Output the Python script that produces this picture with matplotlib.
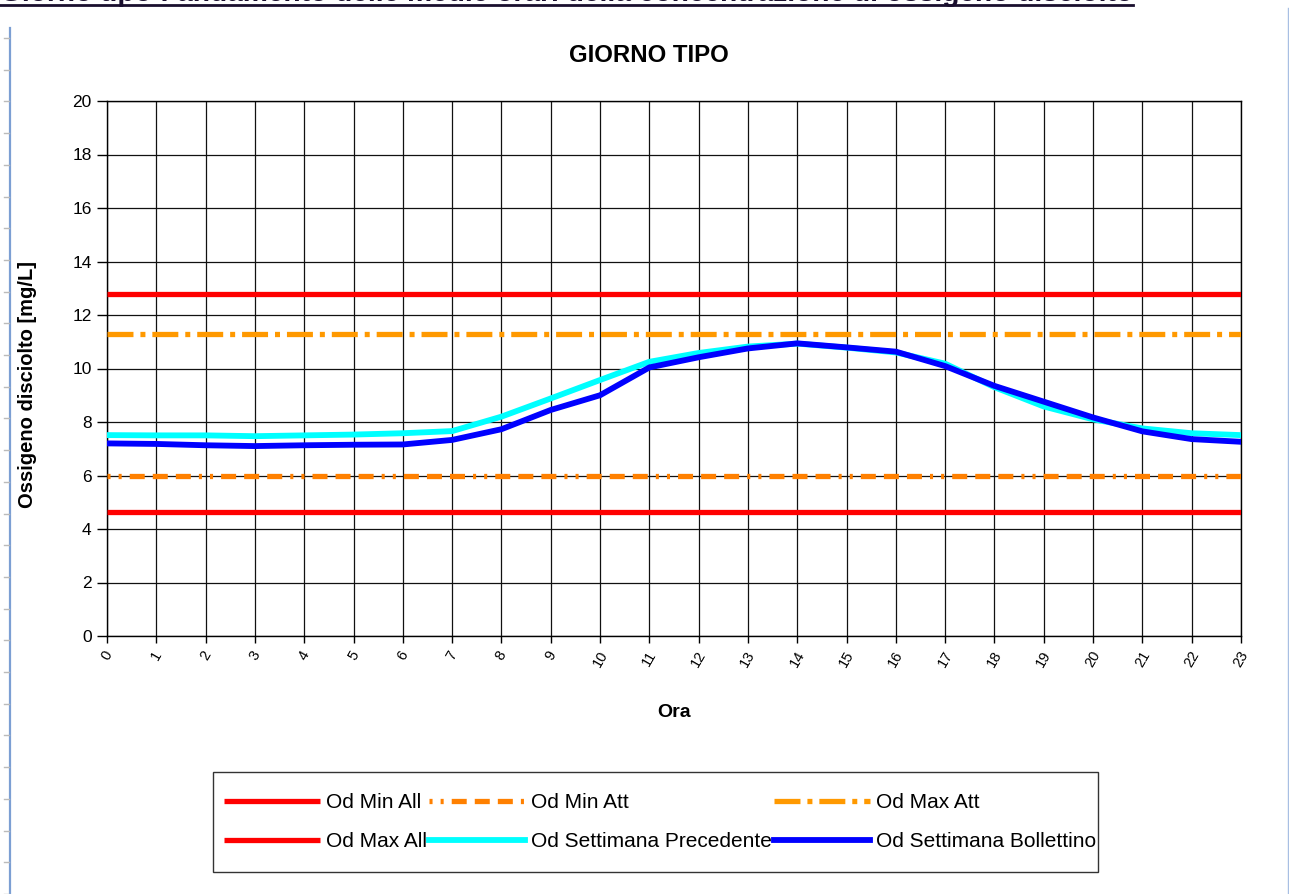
import matplotlib
matplotlib.use('Agg')
import matplotlib.pyplot as plt
import numpy as np
from matplotlib.lines import Line2D
from matplotlib.patches import Rectangle

plt.rcParams['font.family'] = ['Liberation Sans', 'DejaVu Sans']
plt.rcParams['lines.scale_dashes'] = False

# ---------------- data ----------------
hours = list(range(24))
hour_labels = [str(h) for h in hours]
od_min_all = 4.65
od_min_att = 6.0
od_max_att = 11.3
od_max_all = 12.8
od_settimana_precedente = [7.51, 7.50, 7.50, 7.47, 7.50, 7.53, 7.58, 7.66, 8.20, 8.88, 9.57, 10.25,
                           10.58, 10.82, 10.93, 10.78, 10.60, 10.18, 9.30, 8.58, 8.10, 7.76, 7.58, 7.51]
od_settimana_bollettino = [7.20, 7.18, 7.13, 7.10, 7.13, 7.15, 7.16, 7.33, 7.73, 8.45, 9.00, 10.04,
                           10.42, 10.75, 10.94, 10.79, 10.63, 10.09, 9.35, 8.76, 8.17, 7.65, 7.36, 7.26]
y_ticks = list(range(0, 21, 2))

W, H = 1289, 894
fig = plt.figure(figsize=(W / 100, H / 100), dpi=100)
fig.patch.set_facecolor('white')

def fx(px):
    return px / W

def fy(py):
    return 1 - py / H

ax = fig.add_axes([fx(107), fy(636), fx(1241) - fx(107), fy(101) - fy(636)])

lw = 3.8
red = '#FF0000'
org_min = '#FF8000'
org_max = '#FF9900'

l_min_all, = ax.plot(hours, [od_min_all] * len(hours), color=red, lw=lw, solid_capstyle='butt', zorder=3)
l_max_all, = ax.plot(hours, [od_max_all] * len(hours), color=red, lw=lw, solid_capstyle='butt', zorder=3)
l_min_att, = ax.plot(hours, [od_min_att] * len(hours), color=org_min, lw=lw,
                     dashes=(2.2, 5.8, 2.2, 5.8, 10.8, 5.8, 10.8, 5.8, 10.8, 5.8), dash_capstyle='butt', zorder=3)
l_max_att, = ax.plot(hours, [od_max_att] * len(hours), color=org_max, lw=lw,
                     dashes=(18.7, 5.0, 3.6, 5.0), dash_capstyle='butt', zorder=3)
l_prec, = ax.plot(hours, od_settimana_precedente, color='#00FFFF', lw=4.2, zorder=4)
l_boll, = ax.plot(hours, od_settimana_bollettino, color='#0000FF', lw=4.2, zorder=5)

ax.set_xlim(0, 23)
ax.set_ylim(0, 20)
ax.set_xticks(hours)
ax.set_xticklabels(hour_labels, rotation=60, fontsize=10.5)
ax.set_yticks(y_ticks)
ax.set_yticklabels([str(v) for v in y_ticks], fontsize=12.5)
ax.grid(True, color='#111111', lw=0.9, zorder=1)
ax.set_axisbelow(True)
for s in ax.spines.values():
    s.set_color('black')
    s.set_linewidth(1.0)
ax.tick_params(axis='y', direction='out', length=7, width=1, color='black', pad=4)
ax.tick_params(axis='x', direction='out', length=5, width=1, color='black', pad=4)

ax.set_xlabel('Ora', fontsize=14, fontweight='bold')
ax.set_ylabel('Ossigeno disciolto [mg/L]', fontsize=14.5, fontweight='bold')
ax.xaxis.set_label_coords(0.5, -(704 - 636) / (636 - 101), transform=ax.transAxes)
ax.yaxis.set_label_coords((37 - 107) / (1241 - 107), (636 - 385) / (636 - 101), transform=ax.transAxes)

fig.text(fx(649), fy(55), 'GIORNO TIPO', ha='center', va='center', fontsize=17.3, fontweight='bold')

# legend (row-wise reading order -> column-wise fill)
handles = [l_min_all, l_max_all, l_min_att, l_prec, l_max_att, l_boll]
labels = ['Od Min All', 'Od Max All', 'Od Min Att', 'Od Settimana Precedente', 'Od Max Att',
          'Od Settimana Bollettino']
leg = fig.legend(handles, labels, ncol=3, loc='center', bbox_to_anchor=(fx(660), fy(822)),
                 frameon=False, fontsize=15, handlelength=4.6, handletextpad=0.3,
                 columnspacing=0.1, labelspacing=0.95, borderpad=0.0)
fig.patches.append(Rectangle((fx(213), fy(872)), fx(1098) - fx(213), fy(772) - fy(872),
                             transform=fig.transFigure, fill=False, edgecolor='#333333', lw=1.0))

# page decorations
fig.add_artist(Line2D([fx(10), fx(10)], [fy(28), fy(894)], color='#7C9FD3', lw=1.6, transform=fig.transFigure))
fig.add_artist(Line2D([fx(1288), fx(1288)], [fy(8), fy(894)], color='#A8BFE3', lw=1.0, transform=fig.transFigure))
for yy in np.arange(38, 894, 31.7):
    fig.add_artist(Line2D([fx(4), fx(9)], [fy(yy), fy(yy)], color='#BBBBBB', lw=1.0, transform=fig.transFigure))

# cut-off page heading
head = fig.text(fx(0), fy(1), 'Giorno tipo : andamento delle medie orari della concentrazione di ossigeno disciolto',
                ha='left', va='baseline', fontsize=18, fontweight='bold', color='#1a0f2e')
fig.canvas.draw()
bb = head.get_window_extent()
head.set_fontsize(18 * 1133 / bb.width)
fig.add_artist(Line2D([fx(0), fx(1133)], [fy(5), fy(5)], color='#1a0f2e', lw=2.0, transform=fig.transFigure))

fig.savefig('out.png', dpi=100)
